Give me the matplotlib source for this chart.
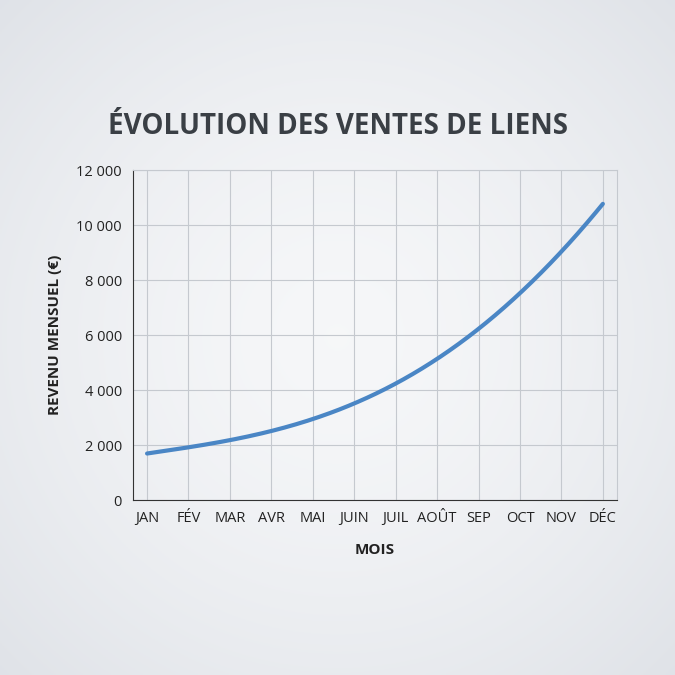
import numpy as np
import matplotlib
matplotlib.use("Agg")
import matplotlib.pyplot as plt
from matplotlib.ticker import FuncFormatter

months = ["JAN", "FÉV", "MAR", "AVR", "MAI", "JUIN", "JUIL", "AOÛT", "SEP", "OCT", "NOV", "DÉC"]
revenue = [1700, 1920, 2180, 2500, 2950, 3550, 4250, 5130, 6180, 7530, 9090, 10750]

plt.rcParams['font.family'] = ['Open Sans', 'DejaVu Sans']

fig = plt.figure(figsize=(6.75, 6.75), dpi=100)

# soft radial background, slightly bluish grey
bg = fig.add_axes([0, 0, 1, 1], zorder=-10)
yy, xx = np.mgrid[-1:1:300j, -1:1:300j]
r = np.clip(np.sqrt(xx**2 + yy**2) / 1.4, 0, 1) ** 1.5
centre = np.array([0.965, 0.969, 0.976])
edge = np.array([0.878, 0.890, 0.910])
img = centre[None, None, :] * (1 - r[..., None]) + edge[None, None, :] * r[..., None]
bg.imshow(img, extent=[0, 1, 0, 1], aspect='auto')
bg.axis('off')

ax = fig.add_axes([0.197, 0.259, 0.717, 0.489])
ax.patch.set_alpha(0)
x = np.arange(len(months))
# smooth curve through the monthly values
xs = np.linspace(0, 11, 200)
coef = np.polyfit(x, revenue, 4)
ax.plot(xs, np.polyval(coef, xs), color='#4a86c5', lw=3, solid_capstyle='round')

ax.set_xlim(-0.34, 11.34)
ax.set_ylim(0, 12000)
ax.set_xticks(x)
ax.set_xticklabels(months)
ax.set_yticks(np.arange(0, 12001, 2000))
ax.yaxis.set_major_formatter(FuncFormatter(lambda v, p: f"{int(v):,}".replace(",", " ")))
ax.grid(True, color='#c5c9cf', lw=0.8)
for s in ['top', 'right']:
    ax.spines[s].set_color('#c5c9cf')
for s in ['left', 'bottom']:
    ax.spines[s].set_color('#333333')
ax.tick_params(length=0, labelsize=10.5, colors='#222222', pad=8)
ax.set_xlabel("MOIS", fontsize=11, fontweight='bold', color='#222222', labelpad=12)
ax.set_ylabel("REVENU MENSUEL (€)", fontsize=11, fontweight='bold', color='#222222', labelpad=10)

fig.text(0.5, 0.812, "ÉVOLUTION DES VENTES DE LIENS", ha='center', va='center',
         fontsize=20, fontweight='bold', color='#3a3f45')

fig.savefig("out.png", dpi=100)
